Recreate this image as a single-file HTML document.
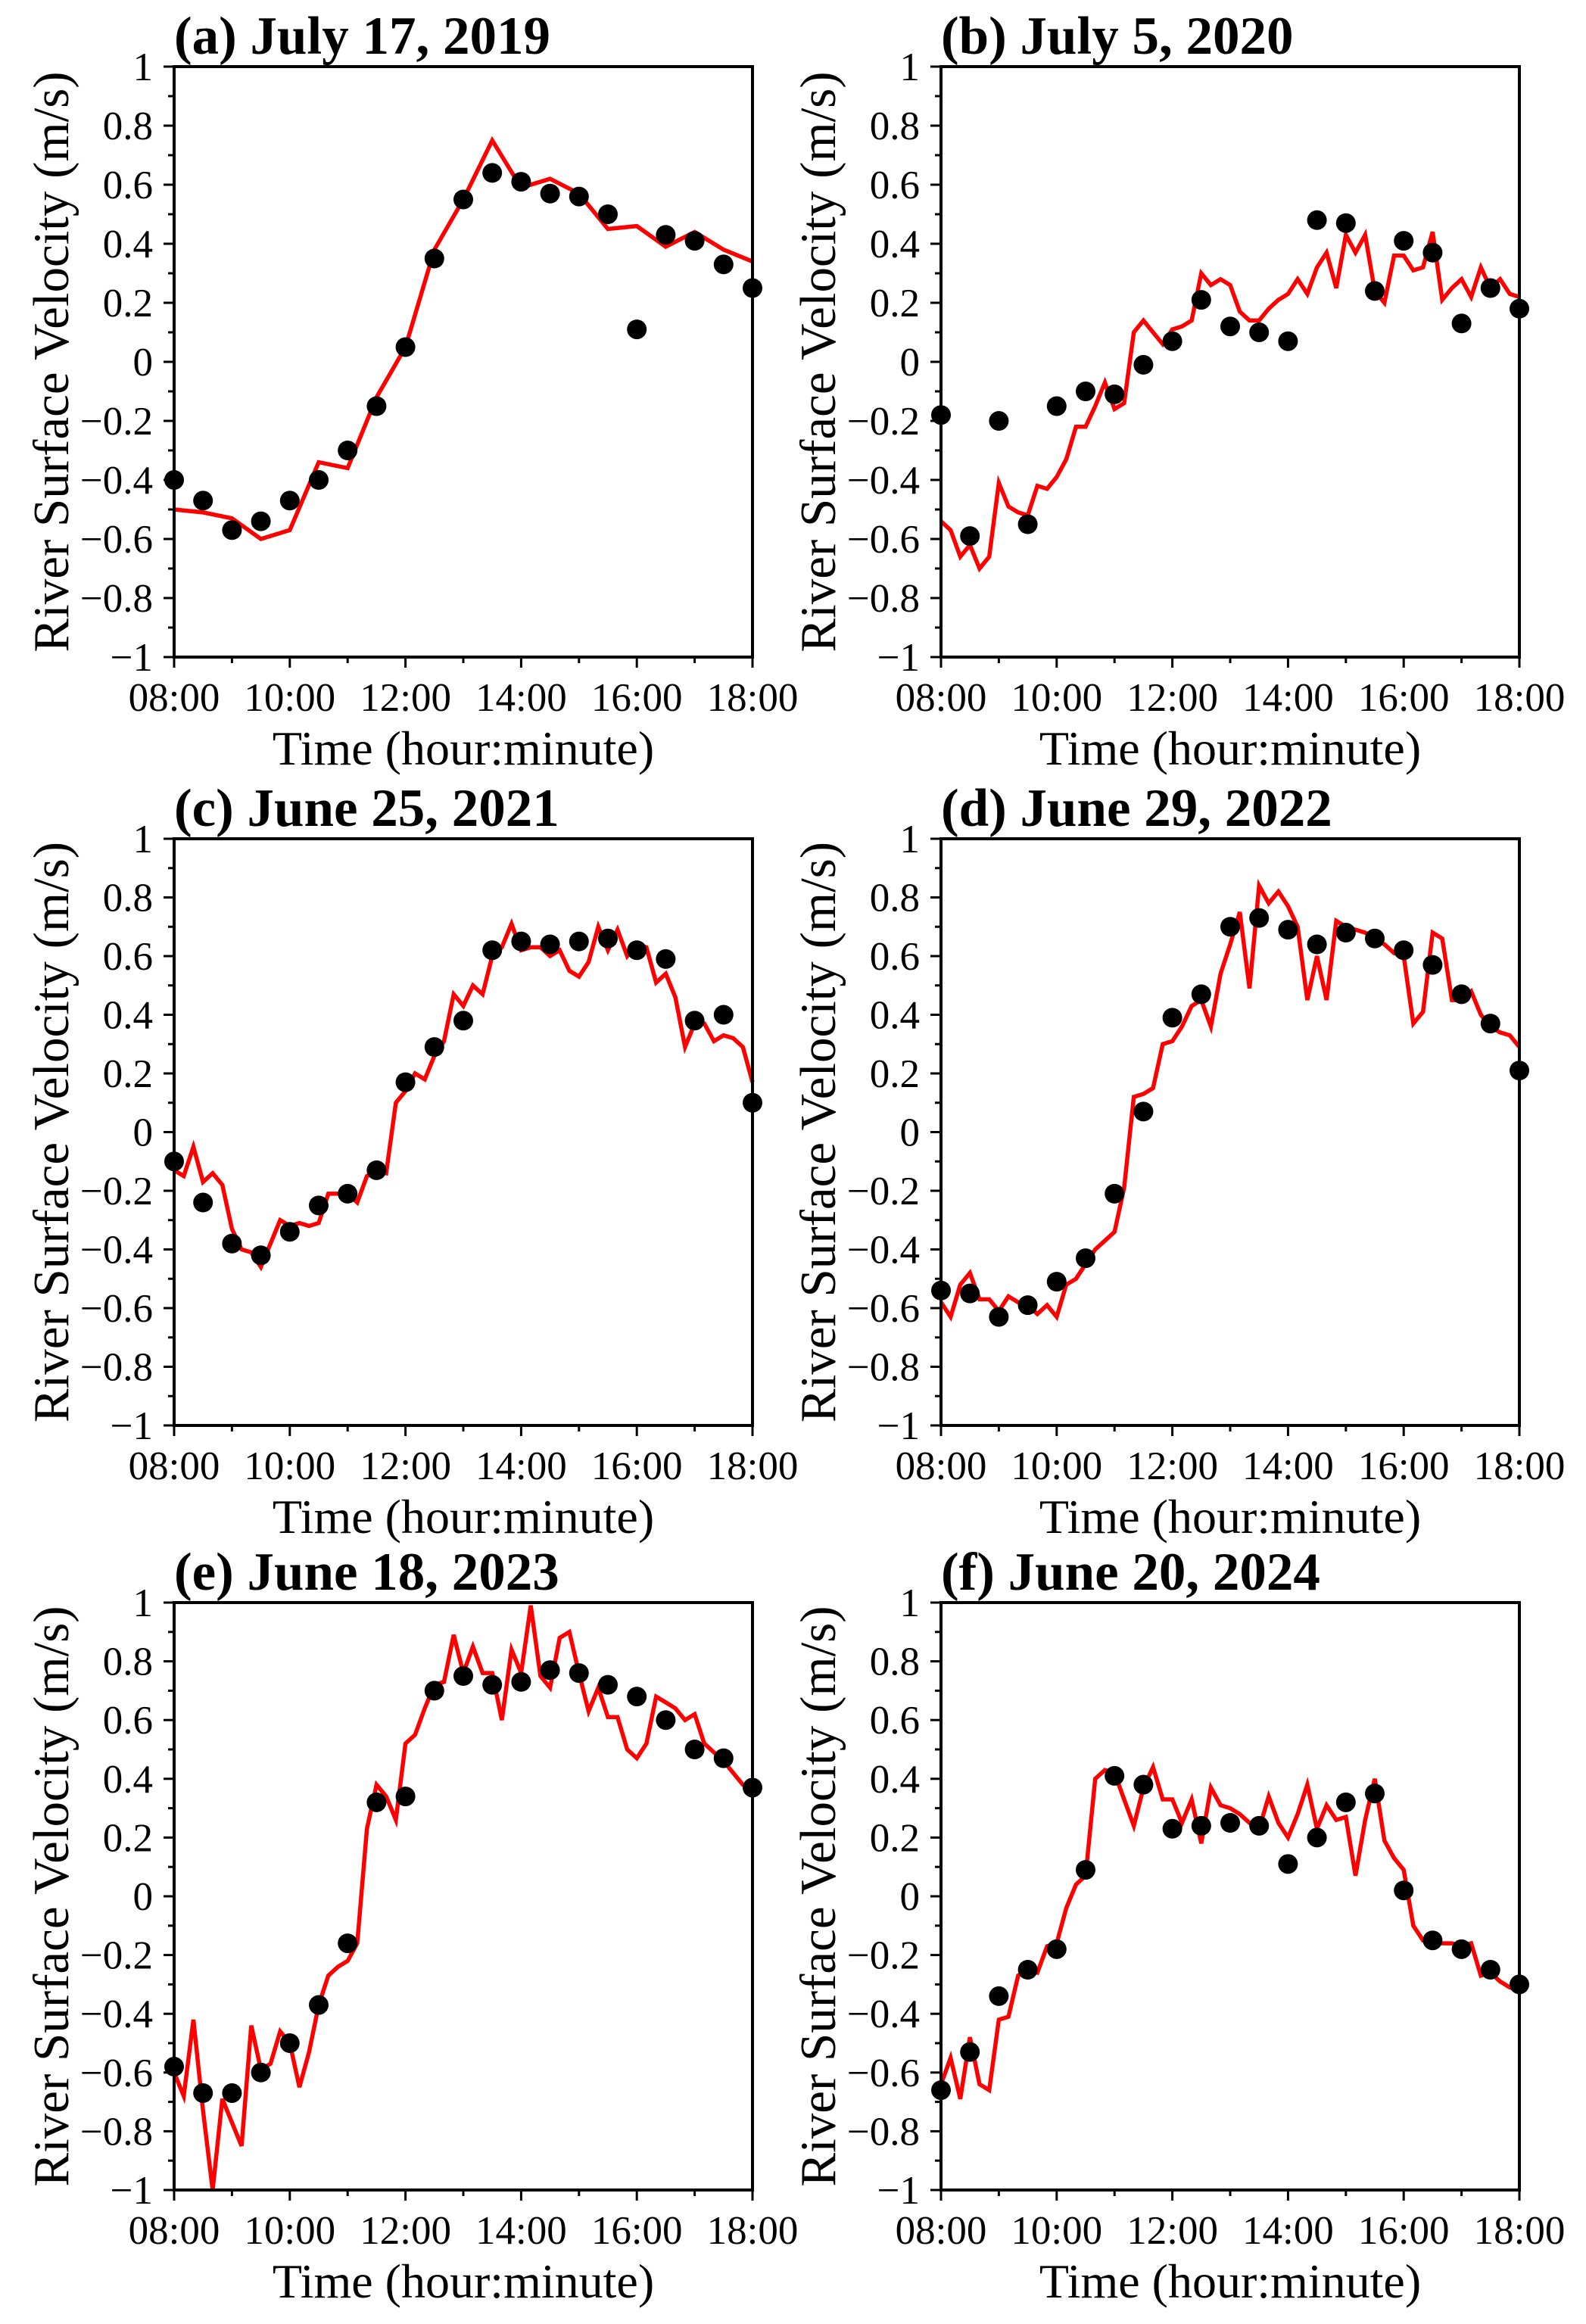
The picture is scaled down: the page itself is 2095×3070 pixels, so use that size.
<!DOCTYPE html>
<html><head><meta charset="utf-8">
<style>
html,body{margin:0;padding:0;background:#fff;}
svg{display:block;}
text{font-family:"Liberation Serif","Times New Roman",serif;fill:#000;}
</style></head>
<body>
<svg id="fig" width="2095" height="3070" viewBox="0 0 2095 3070" xmlns="http://www.w3.org/2000/svg"></svg>
<script>
// Shared axis data
const yTicks = [-1,-0.8,-0.6,-0.4,-0.2,0,0.2,0.4,0.6,0.8,1];
const yTickLabels = ["\u22121","\u22120.8","\u22120.6","\u22120.4","\u22120.2","0","0.2","0.4","0.6","0.8","1"];
const xTicksMin = [0,120,240,360,480,600];
const xTickLabels = ["08:00","10:00","12:00","14:00","16:00","18:00"];
const titles = ["(a) July 17, 2019","(b) July 5, 2020","(c) June 25, 2021","(d) June 29, 2022","(e) June 18, 2023","(f) June 20, 2024"];

// Observations every 30 min (08:00..18:00)
const dotsA = [-0.40,-0.47,-0.57,-0.54,-0.47,-0.40,-0.30,-0.15,0.05,0.35,0.55,0.64,0.61,0.57,0.56,0.50,0.11,0.43,0.41,0.33,0.25];
const dotsB = [-0.18,-0.59,-0.20,-0.55,-0.15,-0.10,-0.11,-0.01,0.07,0.21,0.12,0.10,0.07,0.48,0.47,0.24,0.41,0.37,0.13,0.25,0.18];
const dotsC = [-0.10,-0.24,-0.38,-0.42,-0.34,-0.25,-0.21,-0.13,0.17,0.29,0.38,0.62,0.65,0.64,0.65,0.66,0.62,0.59,0.38,0.40,0.10];
const dotsD = [-0.54,-0.55,-0.63,-0.59,-0.51,-0.43,-0.21,0.07,0.39,0.47,0.70,0.73,0.69,0.64,0.68,0.66,0.62,0.57,0.47,0.37,0.21];
const dotsE = [-0.58,-0.67,-0.67,-0.60,-0.50,-0.37,-0.16,0.32,0.34,0.70,0.75,0.72,0.73,0.77,0.76,0.72,0.68,0.60,0.50,0.47,0.37];
const dotsF = [-0.66,-0.53,-0.34,-0.25,-0.18,0.09,0.41,0.38,0.23,0.24,0.25,0.24,0.11,0.20,0.32,0.35,0.02,-0.15,-0.18,-0.25,-0.30];
const dotStepMin = 30;

// Model line (a: every 30 min; b-f: every 10 min)
const lineA = [-0.50,-0.51,-0.53,-0.60,-0.57,-0.34,-0.36,-0.12,0.05,0.38,0.55,0.75,0.59,0.62,0.57,0.45,0.46,0.39,0.44,0.38,0.34];
const lineB = [-0.54,-0.57,-0.66,-0.62,-0.70,-0.66,-0.41,-0.49,-0.51,-0.52,-0.42,-0.43,-0.39,-0.33,-0.22,-0.22,-0.15,-0.07,-0.16,-0.14,0.10,0.14,0.10,0.06,0.11,0.12,0.14,0.30,0.26,0.28,0.26,0.17,0.14,0.14,0.18,0.21,0.23,0.28,0.23,0.32,0.37,0.25,0.43,0.37,0.43,0.24,0.20,0.36,0.36,0.31,0.32,0.44,0.21,0.25,0.28,0.22,0.32,0.25,0.28,0.23,0.22];
const lineC = [-0.13,-0.15,-0.05,-0.17,-0.14,-0.18,-0.33,-0.40,-0.41,-0.46,-0.38,-0.30,-0.32,-0.31,-0.32,-0.31,-0.21,-0.21,-0.21,-0.24,-0.15,-0.13,-0.14,0.10,0.14,0.20,0.18,0.26,0.31,0.47,0.43,0.50,0.47,0.60,0.63,0.71,0.62,0.63,0.63,0.60,0.62,0.55,0.53,0.58,0.70,0.62,0.69,0.60,0.64,0.63,0.51,0.54,0.46,0.29,0.37,0.37,0.31,0.33,0.32,0.29,0.17];
const lineD = [-0.58,-0.63,-0.52,-0.48,-0.57,-0.57,-0.61,-0.56,-0.58,-0.59,-0.62,-0.59,-0.63,-0.52,-0.50,-0.45,-0.40,-0.37,-0.34,-0.19,0.12,0.13,0.15,0.30,0.31,0.36,0.43,0.45,0.36,0.54,0.64,0.75,0.49,0.84,0.78,0.82,0.77,0.70,0.45,0.60,0.45,0.72,0.70,0.69,0.68,0.66,0.64,0.61,0.60,0.37,0.41,0.68,0.66,0.45,0.45,0.48,0.40,0.36,0.34,0.33,0.29];
const lineE = [-0.60,-0.68,-0.42,-0.73,-1.00,-0.69,-0.77,-0.85,-0.44,-0.59,-0.57,-0.46,-0.50,-0.65,-0.53,-0.37,-0.27,-0.24,-0.22,-0.16,0.23,0.38,0.34,0.26,0.52,0.55,0.64,0.72,0.73,0.89,0.76,0.85,0.76,0.76,0.60,0.84,0.76,0.99,0.75,0.71,0.88,0.90,0.76,0.63,0.71,0.61,0.61,0.50,0.47,0.52,0.68,0.66,0.64,0.60,0.62,0.52,0.49,0.46,0.42,0.38,0.37];
const lineF = [-0.64,-0.55,-0.69,-0.48,-0.64,-0.66,-0.42,-0.41,-0.27,-0.25,-0.26,-0.17,-0.16,-0.04,0.04,0.07,0.40,0.43,0.42,0.33,0.24,0.37,0.44,0.33,0.33,0.25,0.33,0.18,0.37,0.31,0.30,0.28,0.25,0.23,0.34,0.25,0.20,0.28,0.38,0.23,0.31,0.26,0.27,0.07,0.26,0.40,0.19,0.13,0.09,-0.10,-0.15,-0.15,-0.16,-0.16,-0.17,-0.16,-0.27,-0.26,-0.29,-0.31,-0.32];
const lineStepMin = [30,10,10,10,10,10];

const dotsAll = [dotsA,dotsB,dotsC,dotsD,dotsE,dotsF];
const linesAll = [lineA,lineB,lineC,lineD,lineE,lineF];
const panelKeys = ["a","b","c","d","e","f"];

const NS = "http://www.w3.org/2000/svg";
const svg = document.getElementById("fig");
function mk(tag, attrs, parent){
  const e = document.createElementNS(NS, tag);
  for (const k in attrs) e.setAttribute(k, attrs[k]);
  (parent||svg).appendChild(e);
  return e;
}
const cols = [[230,994],[1243,2007]];
const rows = [[88,868],[1108,1883],[2117,2893]];

for (let p=0; p<6; p++){
  const [x0,x1] = cols[p%2];
  const [y0,y1] = rows[Math.floor(p/2)];
  const xs = m => x0 + (m/600)*(x1-x0);
  const ys = v => y1 - ((v+1)/2)*(y1-y0);
  const g = mk("g", {});
  
  

  const t = mk("text", {x:x0, y:y0-17, "font-size":71, "font-weight":"bold"}, g);
  t.textContent = titles[p];
  
  

  // y ticks
  for (let i=0;i<yTicks.length;i++){
    const y = ys(yTicks[i]);
    const tk = mk("line", {x1:x0-14, x2:x0, y1:y, y2:y, stroke:"#000","stroke-width":3}, g);
    
    
    const lb = mk("text", {x:x0-28, y:y+18, "font-size":53, "text-anchor":"end"}, g);
    lb.textContent = yTickLabels[i];
    
    
    if (i<yTicks.length-1){
      const ym = ys(yTicks[i]+0.1);
      const mt = mk("line", {x1:x0-8, x2:x0, y1:ym, y2:ym, stroke:"#000","stroke-width":3}, g);
      
      
    }
  }
  // x ticks
  for (let i=0;i<xTicksMin.length;i++){
    const x = xs(xTicksMin[i]);
    const tk = mk("line", {x1:x, x2:x, y1:y1, y2:y1+14, stroke:"#000","stroke-width":3}, g);
    
    
    const lb = mk("text", {x:x, y:y1+71, "font-size":53, "text-anchor":"middle"}, g);
    lb.textContent = xTickLabels[i];
    
    
    if (i<xTicksMin.length-1){
      const xm = xs(xTicksMin[i]+60);
      const mt = mk("line", {x1:xm, x2:xm, y1:y1, y2:y1+8, stroke:"#000","stroke-width":3}, g);
      
      
    }
  }
  // axis titles
  const xt = mk("text", {x:(x0+x1)/2, y:y1+142, "font-size":64, "text-anchor":"middle"}, g);
  xt.textContent = "Time (hour:minute)";
  
  
  const cx = x0-162, cy=(y0+y1)/2;
  const yt = mk("text", {x:cx, y:cy, "font-size":67, "text-anchor":"middle", "dominant-baseline":"central", transform:`rotate(-90 ${cx} ${cy})`}, g);
  yt.textContent = "River Surface Velocity (m/s)";
  
  

  // model line
  const lv = linesAll[p];
  const pts = lv.map((v,i)=> xs(i*lineStepMin[p]).toFixed(1)+","+ys(v).toFixed(1)).join(" ");
  const pl = mk("polyline", {points:pts, fill:"none", stroke:"#ff0000","stroke-width":5.5,"stroke-linejoin":"miter"}, g);
  
  

  // observed dots
  const dv = dotsAll[p];
  for (let i=0;i<dv.length;i++){
    const c = mk("circle", {cx:xs(i*dotStepMin), cy:ys(dv[i]), r:13, fill:"#000"}, g);
    
    
  }

  // frame
  const fr = mk("rect", {x:x0, y:y0, width:x1-x0, height:y1-y0, fill:"none", stroke:"#000","stroke-width":4}, g);
  
  
}
</script>
</body></html>
